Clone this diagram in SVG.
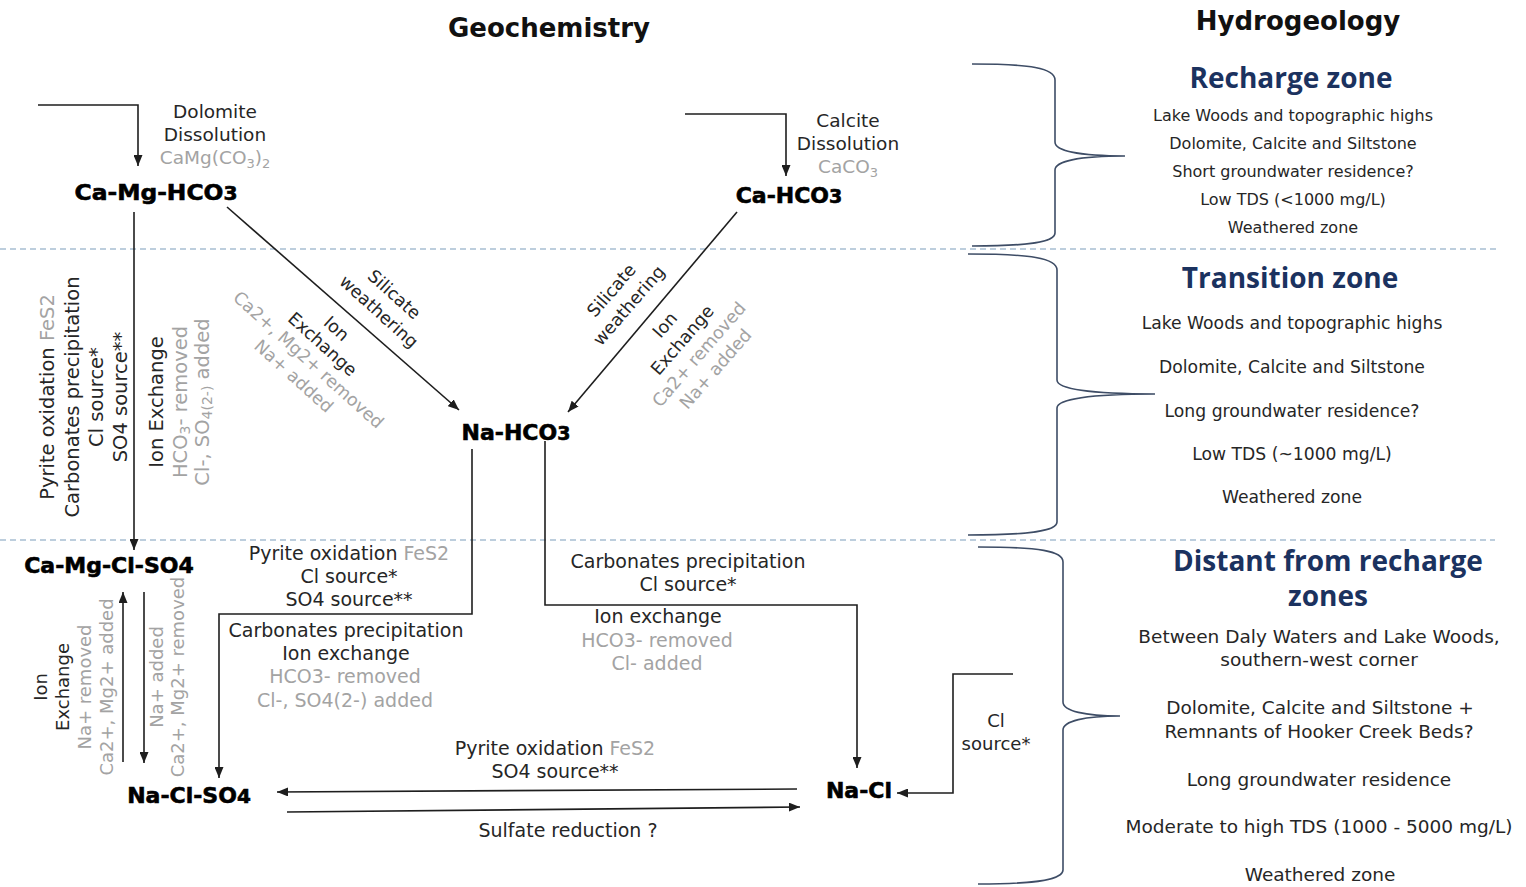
<svg xmlns="http://www.w3.org/2000/svg" width="1526" height="887" viewBox="0 0 1526 887">
<defs>
<marker id="ah" markerWidth="11" markerHeight="9" refX="11" refY="4.5" orient="auto" markerUnits="userSpaceOnUse"><path d="M0,0 L11,4.5 L0,9 z" fill="#1e1e1e"/></marker>
<style>
.t{font-family:"DejaVu Sans","Liberation Sans",sans-serif;fill:#262626;text-anchor:middle}
.g{fill:#a3a3a3}
.n{font-family:"DejaVu Sans","Liberation Sans",sans-serif;font-weight:bold;fill:#000;stroke:#000;stroke-width:0.6;text-anchor:middle;font-size:22px}
.z{font-family:"Open Sans","DejaVu Sans",sans-serif;font-weight:bold;fill:#1b325f;text-anchor:middle;font-size:28px}
.h{font-family:"DejaVu Sans",sans-serif;font-weight:bold;fill:#111;text-anchor:middle;font-size:26px}
.ln{stroke:#1e1e1e;stroke-width:1.6;fill:none}
.ar{marker-end:url(#ah)}
.dash{stroke:#a8bfd2;stroke-width:1.5;stroke-dasharray:6 4;fill:none}
.br{stroke:#3e4d66;stroke-width:1.6;fill:none}
.s19{font-size:19px}.s18{font-size:18px}.s17{font-size:17.5px}.s16{font-size:16px}.s185{font-size:18.5px}.s172{font-size:17.2px}
</style>
</defs>
<rect width="1526" height="887" fill="#fff"/>

<!-- titles -->
<text class="h" x="549" y="37">Geochemistry</text>
<text class="h" x="1298" y="30">Hydrogeology</text>

<!-- zone separators -->
<g id="separators">
<line class="dash" x1="0" y1="249" x2="1500" y2="249"/>
<line class="dash" x1="0" y1="540" x2="1495" y2="540"/>
</g>

<!-- connectors -->
<g id="connectors">
<path class="ln ar" d="M38,105 H138 V166"/>
<path class="ln ar" d="M685,114 H786 V176"/>
<path class="ln ar" d="M134,212 V550"/>
<path class="ln ar" d="M227,207 L459,410"/>
<path class="ln ar" d="M737,212 L568,412"/>
<path class="ln ar" d="M472,449 V614 H219 V778"/>
<path class="ln ar" d="M545,441 V605 H857 V768"/>
<path class="ln ar" d="M1013,674 H953 V793 H897"/>
<path class="ln ar" d="M797,789 L277,792"/>
<path class="ln ar" d="M287,812 L800,807"/>
<path class="ln ar" d="M123,762 V592"/>
<path class="ln ar" d="M144,592 V763"/>
</g>

<!-- nodes -->
<g id="n-ca-mg-hco3"><text class="n" x="156" y="200" textLength="163" lengthAdjust="spacingAndGlyphs">Ca-Mg-HCO<tspan font-size="19px">3</tspan></text></g>
<g id="n-ca-hco3"><text class="n" x="789" y="203">Ca-HCO<tspan font-size="19px">3</tspan></text></g>
<g id="n-na-hco3"><text class="n" x="516" y="440">Na-HCO<tspan font-size="19px">3</tspan></text></g>
<g id="n-ca-mg-cl-so4"><text class="n" x="109" y="573">Ca-Mg-Cl-SO4</text></g>
<g id="n-na-cl-so4"><text class="n" x="189" y="803">Na-Cl-SO<tspan font-size="20px">4</tspan></text></g>
<g id="n-na-cl"><text class="n" x="859" y="798">Na-Cl</text></g>

<!-- process labels -->
<g id="lbl-dolomite">
<text class="t s185" x="215" y="118">Dolomite</text>
<text class="t s185" x="215" y="141">Dissolution</text>
<text class="t s185 g" x="215" y="164">CaMg(CO<tspan font-size="13px" dy="4">3</tspan><tspan dy="-4">)</tspan><tspan font-size="13px" dy="4">2</tspan></text>
</g>
<g id="lbl-calcite">
<text class="t s185" x="848" y="127">Calcite</text>
<text class="t s185" x="848" y="150">Dissolution</text>
<text class="t s185 g" x="848" y="173">CaCO<tspan font-size="13px" dy="4">3</tspan></text>
</g>

<g id="lbl-left-vertical" transform="rotate(-90)">
<text class="t" font-size="19.5px" x="-397" y="54">Pyrite oxidation <tspan class="g">FeS2</tspan></text>
<text class="t" font-size="19.5px" x="-397" y="79">Carbonates precipitation</text>
<text class="t" font-size="19.5px" x="-397" y="103">Cl source*</text>
<text class="t" font-size="19.5px" x="-397" y="127">SO4 source**</text>
<text class="t" font-size="19.5px" x="-402" y="163">Ion Exchange</text>
<text class="t g" font-size="19.5px" x="-402" y="187">HCO<tspan font-size="14px" dy="3">3</tspan><tspan dy="-3">- removed</tspan></text>
<text class="t g" font-size="19.5px" x="-402" y="209">Cl-, SO<tspan font-size="14px" dy="3">4(2-)</tspan><tspan dy="-3"> added</tspan></text>
</g>

<g id="lbl-diag-left" transform="rotate(42)">
<text class="t s17" x="490" y="-39">Silicate</text>
<text class="t s17" x="490" y="-16">weathering</text>
<text class="t s17" x="470" y="25">Ion</text>
<text class="t s17" x="470" y="46">Exchange</text>
<text class="t s17 g" x="470" y="67">Ca2+, Mg2+ removed</text>
<text class="t s17 g" x="470" y="89">Na+ added</text>
</g>

<g id="lbl-diag-right" transform="rotate(-49)">
<text class="t s17" x="182" y="658">Silicate</text>
<text class="t s17" x="182" y="681">weathering</text>
<text class="t s17" x="191" y="721">Ion</text>
<text class="t s17" x="191" y="744">Exchange</text>
<text class="t s17 g" x="191" y="766">Ca2+ removed</text>
<text class="t s17 g" x="191" y="788">Na+ added</text>
</g>

<g id="lbl-mid-left">
<text class="t s19" x="349" y="560">Pyrite oxidation <tspan class="g">FeS2</tspan></text>
<text class="t s19" x="349" y="583">Cl source*</text>
<text class="t s19" x="349" y="606">SO4 source**</text>
<text class="t s19" x="346" y="637">Carbonates precipitation</text>
<text class="t s19" x="346" y="660">Ion exchange</text>
<text class="t s19 g" x="345" y="683">HCO3- removed</text>
<text class="t s19 g" x="345" y="707">Cl-, SO4(2-) added</text>
</g>

<g id="lbl-mid-right">
<text class="t s19" x="688" y="568">Carbonates precipitation</text>
<text class="t s19" x="688" y="591">Cl source*</text>
<text class="t s19" x="658" y="623">Ion exchange</text>
<text class="t s19 g" x="657" y="647">HCO3- removed</text>
<text class="t s19 g" x="657" y="670">Cl- added</text>
</g>

<g id="lbl-low-left" transform="rotate(-90)">
<text class="t s18" x="-687" y="47">Ion</text>
<text class="t s18" x="-687" y="69">Exchange</text>
<text class="t s18 g" x="-687" y="91">Na+ removed</text>
<text class="t s18 g" x="-687" y="113">Ca2+, Mg2+ added</text>
<text class="t s18 g" x="-677" y="163">Na+ added</text>
<text class="t s18 g" x="-677" y="184">Ca2+, Mg2+ removed</text>
</g>

<g id="lbl-bottom">
<text class="t s19" x="555" y="755">Pyrite oxidation <tspan class="g">FeS2</tspan></text>
<text class="t s19" x="555" y="778">SO4 source**</text>
<text class="t s19" x="568" y="837">Sulfate reduction ?</text>
</g>

<g id="lbl-cl-source">
<text class="t s18" x="996" y="727">Cl</text>
<text class="t s18" x="996" y="750">source*</text>
</g>

<!-- hydrogeology -->
<g id="zone-recharge">
<path class="br" d="M972,64 C1030,64 1055,68 1055,80 V142 C1055,151 1080,156 1125,156 C1080,156 1055,161 1055,170 V233 C1055,242 1030,246 972,246"/>
<text class="z" x="1291" y="88">Recharge zone</text>
<text class="t s16" x="1293" y="121">Lake Woods and topographic highs</text>
<text class="t s16" x="1293" y="149">Dolomite, Calcite and Siltstone</text>
<text class="t s16" x="1293" y="177">Short groundwater residence?</text>
<text class="t s16" x="1293" y="205">Low TDS (&lt;1000 mg/L)</text>
<text class="t s16" x="1293" y="233">Weathered zone</text>
</g>
<g id="zone-transition">
<path class="br" d="M968,254 C1030,254 1057,258 1057,270 V380 C1057,389 1090,394 1155,394 C1090,394 1057,399 1057,408 V522 C1057,531 1030,535 968,535"/>
<text class="z" x="1290" y="288">Transition zone</text>
<text class="t s172" x="1292" y="329">Lake Woods and topographic highs</text>
<text class="t s172" x="1292" y="373">Dolomite, Calcite and Siltstone</text>
<text class="t s172" x="1292" y="417">Long groundwater residence?</text>
<text class="t s172" x="1292" y="460">Low TDS (~1000 mg/L)</text>
<text class="t s172" x="1292" y="503">Weathered zone</text>
</g>
<g id="zone-distant">
<path class="br" d="M978,547 C1040,547 1063,551 1063,562 V702 C1063,711 1085,716 1120,716 C1085,716 1063,721 1063,730 V870 C1063,879 1040,884 978,884"/>
<text class="z" x="1328" y="571">Distant from recharge</text>
<text class="z" x="1328" y="606">zones</text>
<text class="t s185" x="1319" y="643">Between Daly Waters and Lake Woods,</text>
<text class="t s185" x="1319" y="666">southern-west corner</text>
<text class="t s185" x="1320" y="714">Dolomite, Calcite and Siltstone +</text>
<text class="t s185" x="1319" y="738">Remnants of Hooker Creek Beds?</text>
<text class="t s185" x="1319" y="786">Long groundwater residence</text>
<text class="t s185" x="1319" y="833">Moderate to high TDS (1000 - 5000 mg/L)</text>
<text class="t s185" x="1320" y="881">Weathered zone</text>
</g>
</svg>
